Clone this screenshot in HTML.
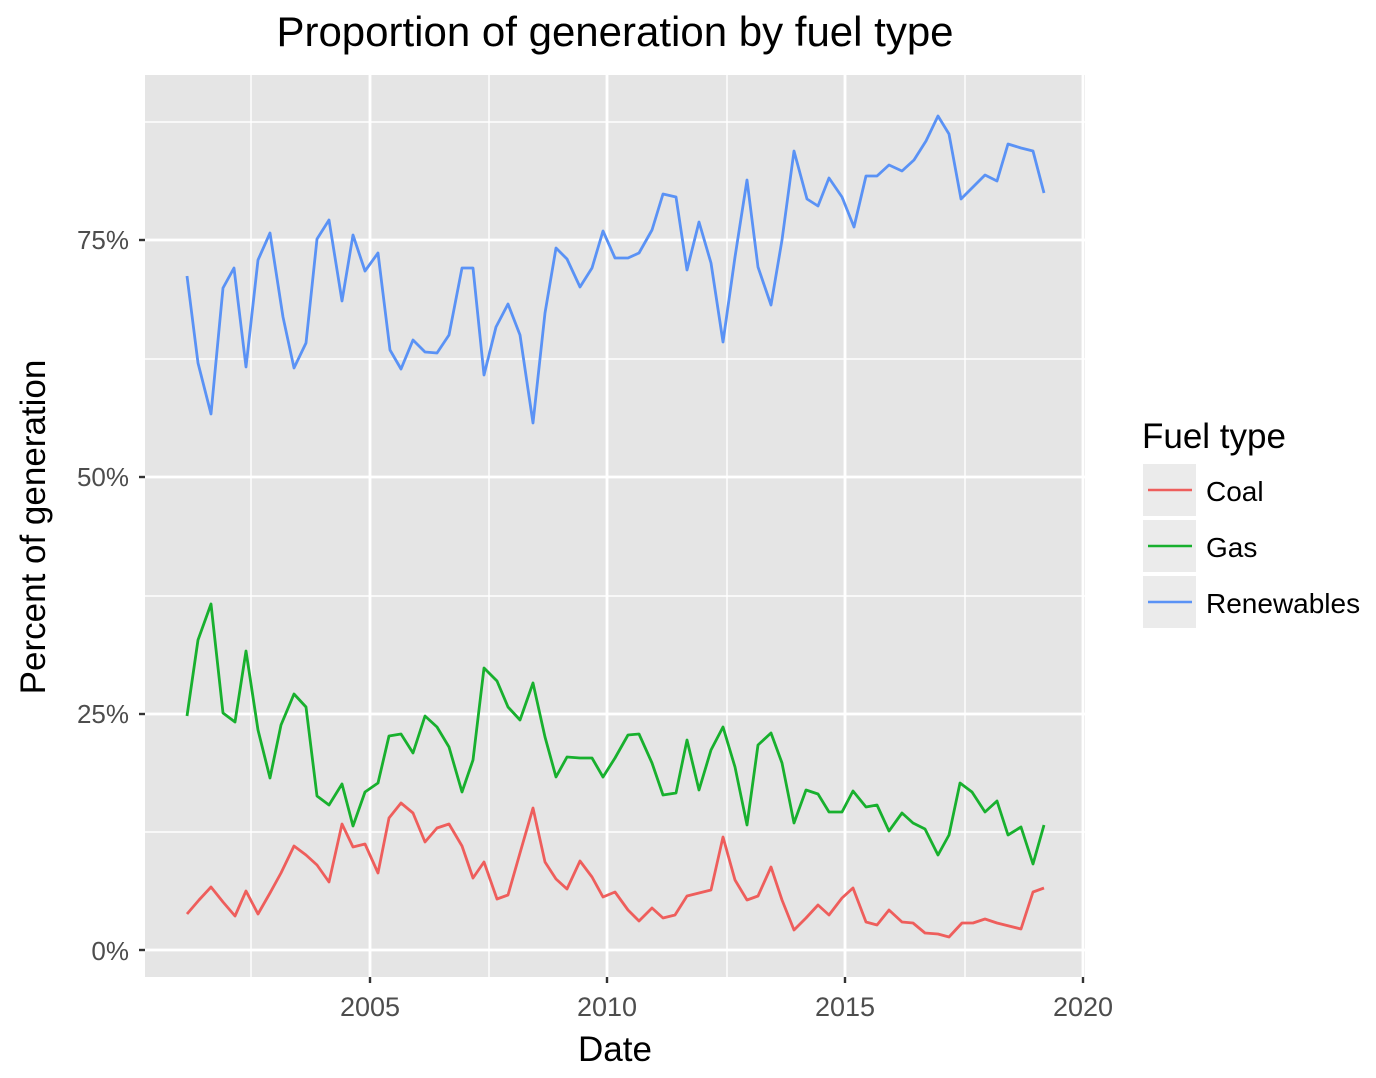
<!DOCTYPE html>
<html><head><meta charset="utf-8"><style>
html,body{margin:0;padding:0;background:#fff;}
svg{display:block;font-family:"Liberation Sans",Arial,sans-serif;}
</style></head><body>
<svg width="1376" height="1078" viewBox="0 0 1376 1078" xmlns="http://www.w3.org/2000/svg">
<rect x="0" y="0" width="1376" height="1078" fill="#fff"/>
<text x="615" y="46" font-size="42" text-anchor="middle" fill="#000">Proportion of generation by fuel type</text>
<rect x="145" y="75" width="940" height="902" fill="#e5e5e5"/>
<g stroke="#fff" stroke-width="1.4">
<line x1="145" x2="1085" y1="832" y2="832"/><line x1="145" x2="1085" y1="596" y2="596"/><line x1="145" x2="1085" y1="359" y2="359"/><line x1="145" x2="1085" y1="122" y2="122"/>
<line y1="75" y2="977" x1="251" x2="251"/><line y1="75" y2="977" x1="489" x2="489"/><line y1="75" y2="977" x1="727" x2="727"/><line y1="75" y2="977" x1="965" x2="965"/>
</g>
<g stroke="#fff" stroke-width="2.8">
<line x1="145" x2="1085" y1="950" y2="950"/><line x1="145" x2="1085" y1="714" y2="714"/><line x1="145" x2="1085" y1="477" y2="477"/><line x1="145" x2="1085" y1="240" y2="240"/>
<line y1="75" y2="977" x1="370" x2="370"/><line y1="75" y2="977" x1="607" x2="607"/><line y1="75" y2="977" x1="845" x2="845"/><line y1="75" y2="977" x1="1083" x2="1083"/>
</g>
<g fill="none" stroke-width="2.8" stroke-linejoin="round">
<polyline stroke="#5a92f5" points="187,276 198,363 211,414 223,288 234,268 246,367 258,260 270,233 283,317 294,368 306,343 317,239 329,220 342,301 353,235 365,271 378,253 390,350 401,369 413,340 425,352 437,353 449,335 462,268 473,268 484,375 496,327 508,304 520,335 533,423 545,313 556,248 567,259 580,287 592,268 603,231 615,258 628,258 639,253 652,230 663,194 676,197 687,270 699,222 711,263 723,342 735,257 747,180 758,267 771,305 782,240 794,151 807,199 818,206 829,178 842,197 854,227 866,176 877,176 889,165 902,171 914,160 926,141 938,116 949,134 961,199 973,187 985,175 997,181 1008,144 1021,148 1033,151 1044,193"/>
<polyline stroke="#18b02e" points="187,716 198,640 211,604 223,713 235,722 246,651 258,730 270,778 281,725 294,694 306,707 317,796 329,805 342,784 353,826 365,792 378,783 389,736 401,734 413,753 425,716 437,727 449,747 462,792 473,760 484,668 497,681 508,707 520,720 533,683 545,737 556,777 567,757 580,758 592,758 603,777 615,758 628,735 639,734 652,763 663,795 676,793 687,740 699,790 711,750 723,727 735,767 747,825 758,745 771,733 782,763 794,823 806,790 818,794 829,812 842,812 853,791 866,807 877,805 889,831 902,813 913,823 925,829 938,855 949,835 960,783 972,792 985,812 997,801 1008,835 1021,827 1033,864 1044,825"/>
<polyline stroke="#ee5e5c" points="187,914 199,900 211,887 223,902 235,916 246,891 258,914 270,893 281,873 294,846 306,855 317,865 329,882 342,824 353,847 365,844 378,873 389,818 401,803 413,813 425,842 437,828 449,824 462,846 473,878 484,862 497,899 508,895 520,853 533,808 545,862 556,879 567,889 580,861 592,877 603,897 615,892 628,910 639,921 652,908 663,918 675,915 687,896 699,893 711,890 723,837 735,880 747,900 758,896 771,867 782,900 794,930 806,918 818,905 829,915 842,898 853,888 866,922 877,925 889,910 902,922 913,923 925,933 938,934 949,937 962,923 973,923 985,919 997,923 1009,926 1021,929 1033,892 1044,888"/>
</g>
<g stroke="#333" stroke-width="2.4">
<line x1="139" x2="145" y1="950" y2="950"/><line x1="139" x2="145" y1="714" y2="714"/><line x1="139" x2="145" y1="477" y2="477"/><line x1="139" x2="145" y1="240" y2="240"/>
<line y1="977" y2="983" x1="370" x2="370"/><line y1="977" y2="983" x1="607" x2="607"/><line y1="977" y2="983" x1="845" x2="845"/><line y1="977" y2="983" x1="1083" x2="1083"/>
</g>
<g font-size="26" fill="#4d4d4d" text-anchor="end">
<text x="129" y="960">0%</text><text x="129" y="723">25%</text><text x="129" y="486">50%</text><text x="129" y="249">75%</text>
</g>
<g font-size="27" fill="#4d4d4d" text-anchor="middle">
<text x="370" y="1016">2005</text><text x="607" y="1016">2010</text><text x="845" y="1016">2015</text><text x="1083" y="1016">2020</text>
</g>
<text x="615" y="1061" font-size="35" text-anchor="middle" fill="#000">Date</text>
<text transform="translate(45,527) rotate(-90)" font-size="35" text-anchor="middle" fill="#000">Percent of generation</text>
<text x="1142" y="448" font-size="35" fill="#000">Fuel type</text>
<rect x="1143" y="464" width="53" height="52" fill="#ebebeb"/>
<rect x="1143" y="520" width="53" height="52" fill="#ebebeb"/>
<rect x="1143" y="576" width="53" height="52" fill="#ebebeb"/>
<line x1="1148" x2="1192" y1="490" y2="490" stroke="#ee5e5c" stroke-width="2.6"/>
<line x1="1148" x2="1192" y1="546" y2="546" stroke="#18b02e" stroke-width="2.6"/>
<line x1="1148" x2="1192" y1="602" y2="602" stroke="#5a92f5" stroke-width="2.6"/>
<g font-size="28" fill="#000">
<text x="1206" y="501">Coal</text><text x="1206" y="557">Gas</text><text x="1206" y="613">Renewables</text>
</g>
</svg>
</body></html>
